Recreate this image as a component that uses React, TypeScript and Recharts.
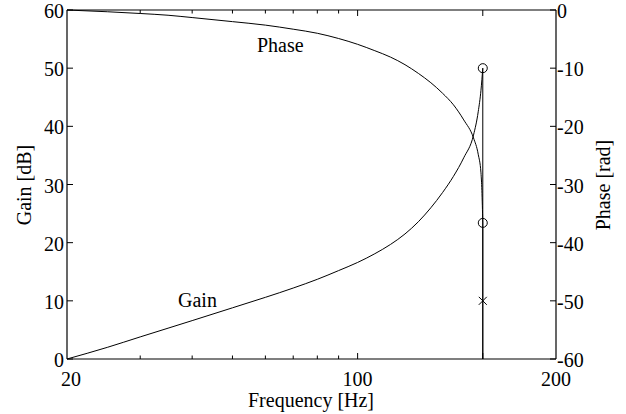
import {
  ComposedChart,
  Line,
  Scatter,
  XAxis,
  YAxis,
  ReferenceLine,
} from "recharts";

// frequency samples (Hz) and readings
const FREQ = [20, 25, 30, 35, 40, 50, 60, 70, 80, 90, 100, 110, 120, 130, 140, 150, 160, 170, 180, 190, 195, 198, 199, 200];
const GAIN = [0, 2.0, 3.8, 5.3, 6.6, 8.8, 10.6, 12.2, 13.7, 15.2, 16.6, 18.1, 19.7, 21.5, 23.6, 26.0, 28.6, 31.4, 34.6, 38.5, 42.5, 46.2, 48.0, 50];
const PHASE = [0, -0.3, -0.6, -0.9, -1.3, -2.0, -2.6, -3.3, -4.0, -4.9, -5.9, -7.0, -8.1, -9.4, -10.9, -12.5, -14.3, -16.3, -18.9, -22.0, -24.8, -28.0, -31.0, -36.6];

// the drop right after the resonance
const GAIN_DROP = [{ f: 200, v: 50 }, { f: 200, v: 0 }];
const PHASE_DROP = [{ f: 200, v: -36.6 }, { f: 200, v: -60 }];

// markers
const GAIN_CIRCLES = [{ f: 200, v: 50 }];
const PHASE_CIRCLES = [{ f: 200, v: -36.6 }];
const GAIN_CROSSES = [{ f: 200, v: 10 }];

// axes
const X_TICKS = [20, 30, 40, 50, 60, 70, 80, 90, 100, 200, 300];
const X_LABELS: Record<number, string> = { 20: "20", 100: "100", 300: "200" };
const GAIN_TICKS = [0, 10, 20, 30, 40, 50, 60];
const PHASE_TICKS = [-60, -50, -40, -30, -20, -10, 0];

const rows = FREQ.map((f, i) => ({ f, gain: GAIN[i], phase: PHASE[i] }));

const W = 626;
const H = 414;
const PLOT = { left: 67, top: 10, right: 556, bottom: 359 };
const FONT = "'Liberation Serif', 'Times New Roman', serif";
const INK = "#000";

const XTick = ({ x, payload }: any) => {
  const v = payload.value;
  const label = X_LABELS[v];
  const edge = v === 20 || v === 300;
  const len = label || v === 200 ? 6 : 3.5;
  return (
    <g>
      {!edge && (
        <>
          <line x1={x} x2={x} y1={PLOT.bottom} y2={PLOT.bottom - len} stroke={INK} strokeWidth={1} />
          <line x1={x} x2={x} y1={PLOT.top} y2={PLOT.top + len} stroke={INK} strokeWidth={1} />
        </>
      )}
      {label && (
        <text
          x={v === 20 ? x + 4 : x}
          y={PLOT.bottom + 27}
          textAnchor="middle"
          fontSize={20}
          fontFamily={FONT}
          fill={INK}
        >
          {label}
        </text>
      )}
    </g>
  );
};

const LeftTick = ({ y, payload }: any) => (
  <g>
    <line x1={PLOT.left} x2={PLOT.left + 6} y1={y} y2={y} stroke={INK} />
    <text x={PLOT.left - 3} y={y + 8} textAnchor="end" fontSize={20} fontFamily={FONT} fill={INK}>
      {payload.value}
    </text>
  </g>
);

const RightTick = ({ y, payload }: any) => (
  <g>
    <line x1={PLOT.right} x2={PLOT.right - 6} y1={y} y2={y} stroke={INK} />
    <text x={PLOT.right + 1} y={y + 8} textAnchor="start" fontSize={20} fontFamily={FONT} fill={INK}>
      {payload.value}
    </text>
  </g>
);

const Circle = ({ cx, cy }: any) => (
  <circle cx={cx} cy={cy} r={4.5} fill="none" stroke={INK} strokeWidth={1} />
);

const Cross = ({ cx, cy }: any) => (
  <g stroke={INK} strokeWidth={1}>
    <line x1={cx - 4} x2={cx + 4} y1={cy - 4} y2={cy + 4} />
    <line x1={cx - 4} x2={cx + 4} y1={cy + 4} y2={cy - 4} />
  </g>
);

const textStyle = {
  position: "absolute" as const,
  fontFamily: FONT,
  fontSize: 20,
  color: INK,
  whiteSpace: "nowrap" as const,
  lineHeight: "20px",
};

export default function App() {
  return (
    <div style={{ position: "absolute", left: 0, top: 0, width: W, height: H, background: "#fff" }}>
      <ComposedChart width={W} height={H} data={rows} margin={{ top: 10, right: 0, bottom: 0, left: 0 }}>
        <XAxis
          dataKey="f"
          type="number"
          scale="log"
          domain={[20, 300]}
          ticks={X_TICKS}
          interval={0}
          allowDataOverflow
          height={55}
          axisLine={{ stroke: INK, strokeWidth: 1.2 }}
          tickLine={false}
          tick={<XTick />}
        />
        <YAxis
          yAxisId="gain"
          orientation="left"
          type="number"
          domain={[0, 60]}
          ticks={GAIN_TICKS}
          interval={0}
          width={67}
          axisLine={{ stroke: INK, strokeWidth: 1.2 }}
          tickLine={false}
          tick={<LeftTick />}
        />
        <YAxis
          yAxisId="phase"
          orientation="right"
          type="number"
          domain={[-60, 0]}
          ticks={PHASE_TICKS}
          interval={0}
          width={70}
          axisLine={{ stroke: INK, strokeWidth: 1.2 }}
          tickLine={false}
          tick={<RightTick />}
        />
        <ReferenceLine yAxisId="gain" y={60} stroke={INK} strokeWidth={1.2} />
        <Line
          yAxisId="gain"
          type="monotone"
          dataKey="gain"
          stroke={INK}
          strokeWidth={1}
          dot={false}
          isAnimationActive={false}
        />
        <Line
          yAxisId="phase"
          type="monotone"
          dataKey="phase"
          stroke={INK}
          strokeWidth={1}
          dot={false}
          isAnimationActive={false}
        />
        <Line
          yAxisId="gain"
          data={GAIN_DROP}
          type="linear"
          dataKey="v"
          stroke={INK}
          strokeWidth={1}
          dot={false}
          isAnimationActive={false}
        />
        <Line
          yAxisId="phase"
          data={PHASE_DROP}
          type="linear"
          dataKey="v"
          stroke={INK}
          strokeWidth={1}
          dot={false}
          isAnimationActive={false}
        />
        <Scatter yAxisId="gain" data={GAIN_CIRCLES} dataKey="v" shape={<Circle />} isAnimationActive={false} />
        <Scatter yAxisId="phase" data={PHASE_CIRCLES} dataKey="v" shape={<Circle />} isAnimationActive={false} />
        <Scatter yAxisId="gain" data={GAIN_CROSSES} dataKey="v" shape={<Cross />} isAnimationActive={false} />
      </ComposedChart>

      <div style={{ ...textStyle, left: 257, top: 35 }}>Phase</div>
      <div style={{ ...textStyle, left: 178, top: 290 }}>Gain</div>
      <div style={{ ...textStyle, left: 311, top: 390, transform: "translateX(-50%)" }}>Frequency [Hz]</div>
      <div style={{ ...textStyle, left: 24, top: 185, transform: "translate(-50%, -50%) rotate(-90deg)" }}>
        Gain [dB]
      </div>
      <div style={{ ...textStyle, left: 603, top: 185, transform: "translate(-50%, -50%) rotate(-90deg)" }}>
        Phase [rad]
      </div>
    </div>
  );
}
